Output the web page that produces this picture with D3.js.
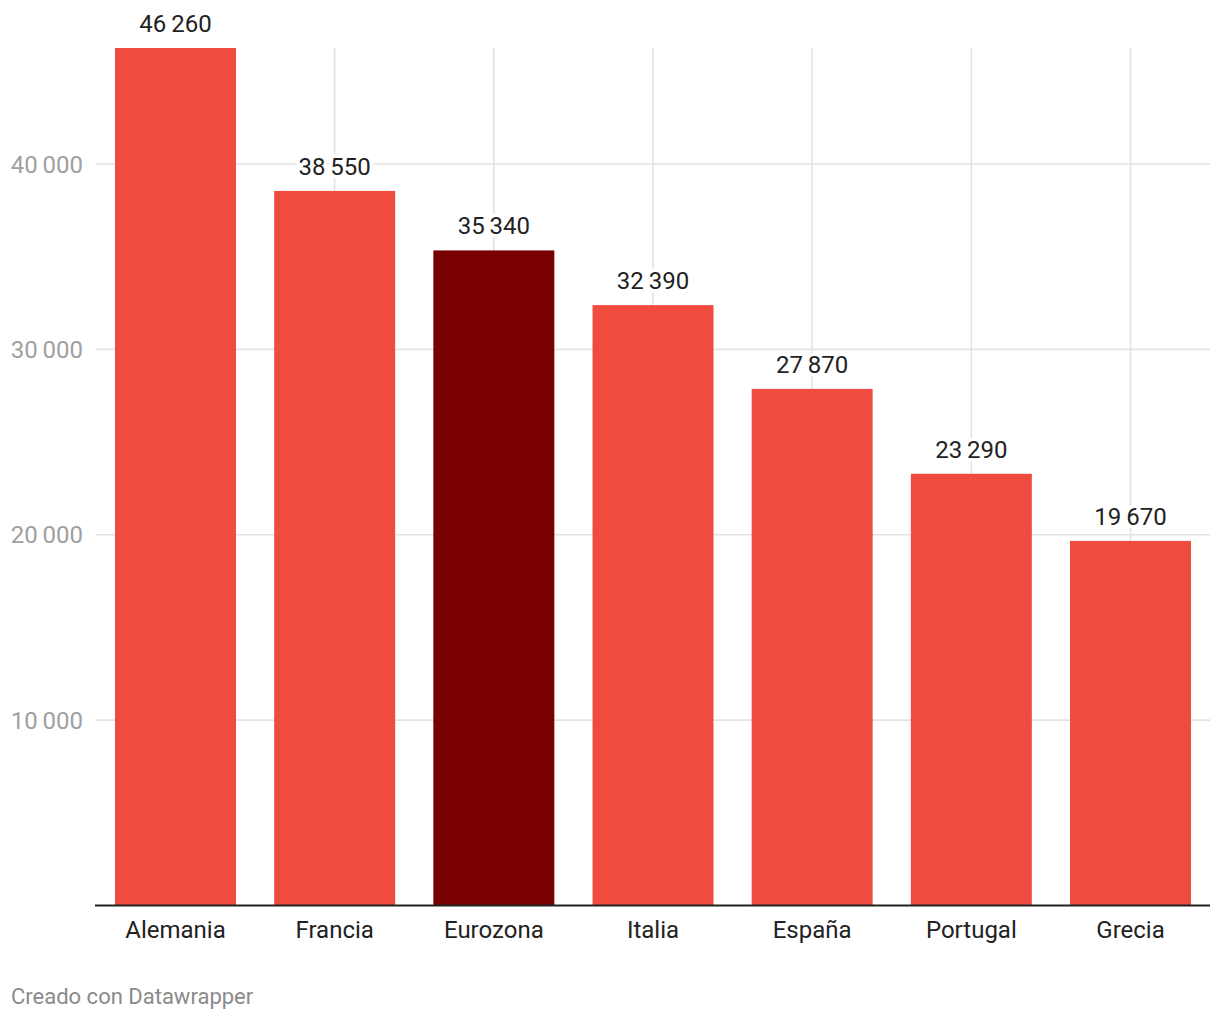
<!DOCTYPE html>
<html>
<head>
<meta charset="utf-8">
<script src="https://cdn.jsdelivr.net/npm/d3@7"></script>
<style>
  html, body { margin: 0; padding: 0; background: #fff; }
  svg text { font-family: Roboto, "Noto Sans", sans-serif; }
</style>
</head>
<body>
<svg id="chart" width="1220" height="1020"></svg>
<script>
const categories = ["Alemania", "Francia", "Eurozona", "Italia", "España", "Portugal", "Grecia"];
const values = [46260, 38550, 35340, 32390, 27870, 23290, 19670];
const highlight = ["Eurozona"];
const yTicks = [10000, 20000, 30000, 40000];
const footer = "Creado con Datawrapper";

const data = categories.map((c, i) => ({ cat: c, val: values[i] }));

const svg = d3.select("#chart");
const mLeft = 95, mRight = 1211, mTop = 48, mBase = 905.5;

const locale = d3.formatLocale({ decimal: ",", thousands: "\u2009", grouping: [3], currency: ["", "€"] });
const fmt = locale.format(",d");

const x = d3.scaleBand().domain(categories).range([mLeft, mRight]).paddingInner(0.24).paddingOuter(0.1257);
const y = d3.scaleLinear().domain([0, d3.max(values)]).range([mBase, mTop]);

// horizontal gridlines
svg.append("g").selectAll("line").data(yTicks).join("line")
  .attr("x1", mLeft + 1).attr("x2", 1210)
  .attr("y1", d => y(d)).attr("y2", d => y(d))
  .attr("stroke", "#e3e3e3").attr("stroke-width", 1.6);

// vertical gridlines at band centers
svg.append("g").selectAll("line").data(categories).join("line")
  .attr("x1", d => x(d) + x.bandwidth() / 2).attr("x2", d => x(d) + x.bandwidth() / 2)
  .attr("y1", mTop).attr("y2", mBase)
  .attr("stroke", "#e3e3e3").attr("stroke-width", 1.6);

// y tick labels
svg.append("g").selectAll("text").data(yTicks).join("text")
  .attr("x", 83).attr("y", d => y(d)).attr("dy", "0.36em")
  .attr("text-anchor", "end")
  .attr("fill", "#a0a0a0").attr("font-size", 24)
  .text(d => fmt(d));

// bars
svg.append("g").selectAll("rect").data(data).join("rect")
  .attr("x", d => x(d.cat)).attr("width", x.bandwidth())
  .attr("y", d => y(d.val)).attr("height", d => mBase - y(d.val))
  .attr("fill", d => highlight.includes(d.cat) ? "#780000" : "#ef4b3e");

// value labels with white halo
svg.append("g").selectAll("text").data(data).join("text")
  .attr("x", d => x(d.cat) + x.bandwidth() / 2).attr("y", d => y(d.val) - 16)
  .attr("text-anchor", "middle")
  .attr("fill", "#222").attr("font-size", 24)
  .attr("stroke", "#fff").attr("stroke-width", 7).attr("paint-order", "stroke")
  .attr("stroke-linejoin", "round")
  .text(d => fmt(d.val));

// x axis
const xAxis = svg.append("g").attr("transform", `translate(0,${mBase})`)
  .call(d3.axisBottom(x).tickSize(0).tickPadding(0));
xAxis.select(".domain").attr("d", `M${mLeft},0H1210`).attr("stroke", "#222").attr("stroke-width", 1.8);
xAxis.selectAll(".tick text")
  .attr("y", 32.5).attr("dy", 0)
  .attr("fill", "#222").attr("font-size", 24)
  .attr("font-family", "Roboto, 'Noto Sans', sans-serif");

// footer
svg.append("text").attr("x", 11).attr("y", 1004)
  .attr("fill", "#8a8a8a").attr("font-size", 22)
  .text(footer);
</script>
</body>
</html>
